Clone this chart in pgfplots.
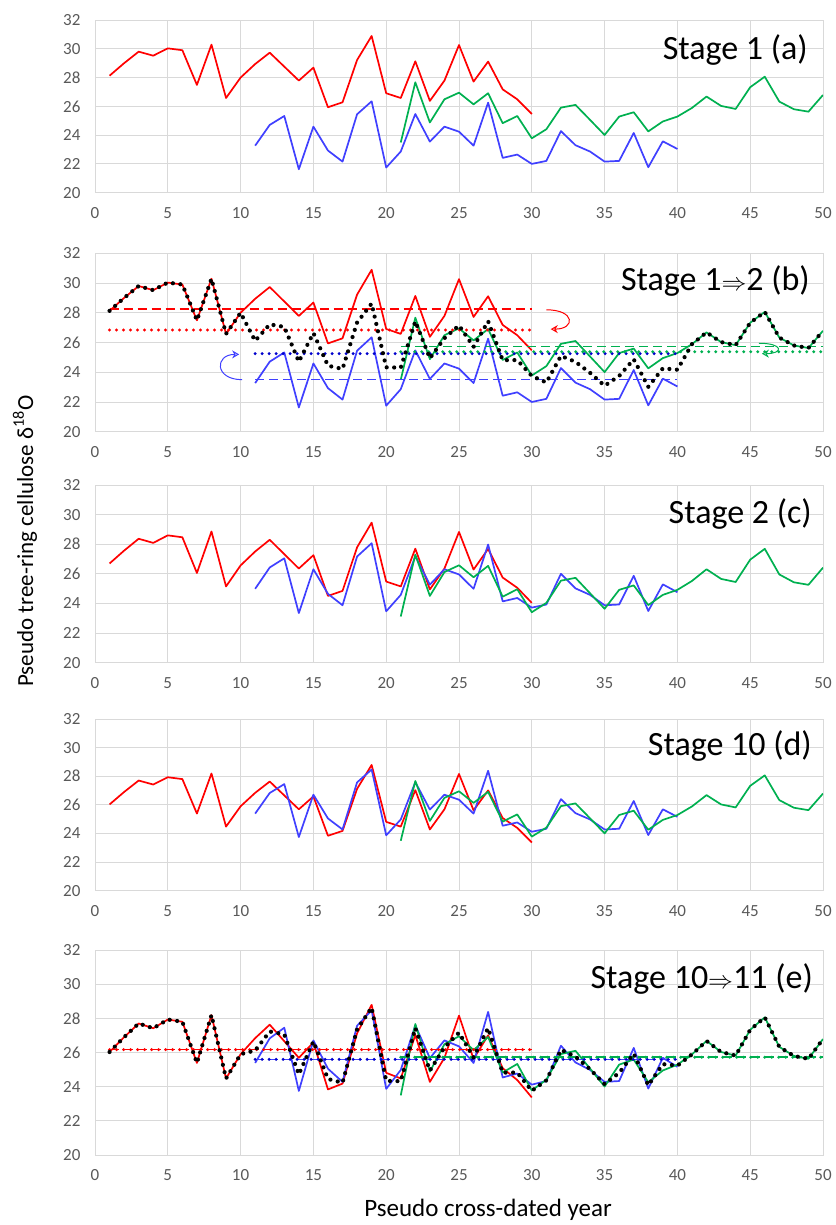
\documentclass[border=0pt]{standalone}
\usepackage{fontspec}
\setmainfont{Carlito}
\usepackage{pgfplots}
\pgfplotsset{compat=1.18}
\usepackage{pgfplotstable}
\usetikzlibrary{arrows.meta}

\definecolor{cR}{RGB}{255,0,0}
\definecolor{cB}{RGB}{64,64,255}
\definecolor{cBd}{RGB}{0,0,204}
\definecolor{cG}{RGB}{0,176,80}
\definecolor{gridc}{RGB}{217,217,217}
\definecolor{tickc}{RGB}{89,89,89}

\pgfplotstableread{
x rA bA gA kB rC bC gC rD bD kE
1 28.13 nan nan 28.13 26.70 nan nan 26.03 nan 26.03
2 29.00 nan nan 29.00 27.57 nan nan 26.90 nan 26.90
3 29.80 nan nan 29.80 28.37 nan nan 27.70 nan 27.70
4 29.52 nan nan 29.52 28.09 nan nan 27.42 nan 27.42
5 30.03 nan nan 30.03 28.60 nan nan 27.93 nan 27.93
6 29.90 nan nan 29.90 28.47 nan nan 27.80 nan 27.80
7 27.49 nan nan 27.49 26.06 nan nan 25.39 nan 25.39
8 30.29 nan nan 30.29 28.86 nan nan 28.19 nan 28.19
9 26.58 nan nan 26.58 25.15 nan nan 24.48 nan 24.48
10 28.00 nan nan 28.00 26.57 nan nan 25.90 nan 25.90
11 28.94 23.27 nan 26.11 27.51 24.99 nan 26.84 25.39 26.12
12 29.73 24.71 nan 27.22 28.30 26.43 nan 27.63 26.83 27.23
13 28.76 25.33 nan 27.05 27.33 27.05 nan 26.66 27.45 27.06
14 27.79 21.63 nan 24.71 26.36 23.35 nan 25.69 23.75 24.72
15 28.69 24.59 nan 26.64 27.26 26.31 nan 26.59 26.71 26.65
16 25.94 22.93 nan 24.44 24.51 24.65 nan 23.84 25.05 24.45
17 26.28 22.16 nan 24.22 24.85 23.88 nan 24.18 24.28 24.23
18 29.22 25.45 nan 27.34 27.79 27.17 nan 27.12 27.57 27.35
19 30.89 26.35 nan 28.62 29.46 28.07 nan 28.79 28.47 28.63
20 26.91 21.75 nan 24.33 25.48 23.47 nan 24.81 23.87 24.34
21 26.58 22.86 23.49 24.31 25.15 24.58 23.12 24.48 24.98 24.32
22 29.13 25.47 27.67 27.42 27.70 27.19 27.30 27.03 27.59 27.43
23 26.38 23.55 24.88 24.94 24.95 25.27 24.51 24.28 25.67 24.94
24 27.79 24.59 26.49 26.29 26.36 26.31 26.12 25.69 26.71 26.30
25 30.26 24.24 26.95 27.15 28.83 25.96 26.58 28.16 26.36 27.16
26 27.72 23.27 26.14 25.71 26.29 24.99 25.77 25.62 25.39 25.72
27 29.11 26.26 26.91 27.43 27.68 27.98 26.54 27.01 28.38 27.43
28 27.18 22.42 24.83 24.81 25.75 24.14 24.46 25.08 24.54 24.82
29 26.49 22.65 25.33 24.82 25.06 24.37 24.96 24.39 24.77 24.83
30 25.47 22.00 23.78 23.75 24.04 23.72 23.41 23.37 24.12 23.76
31 nan 22.21 24.41 23.31 nan 23.93 24.04 nan 24.33 24.37
32 nan 24.28 25.91 25.10 nan 26.00 25.54 nan 26.40 26.16
33 nan 23.30 26.10 24.70 nan 25.02 25.73 nan 25.42 25.76
34 nan 22.86 25.06 23.96 nan 24.58 24.69 nan 24.98 25.02
35 nan 22.16 24.01 23.09 nan 23.88 23.64 nan 24.28 24.15
36 nan 22.21 25.29 23.75 nan 23.93 24.92 nan 24.33 24.81
37 nan 24.15 25.59 24.87 nan 25.87 25.22 nan 26.27 25.93
38 nan 21.77 24.26 23.02 nan 23.49 23.89 nan 23.89 24.08
39 nan 23.57 24.95 24.26 nan 25.29 24.58 nan 25.69 25.32
40 nan 23.04 25.29 24.17 nan 24.76 24.92 nan 25.16 25.23
41 nan nan 25.89 25.89 nan nan 25.52 nan nan 25.89
42 nan nan 26.68 26.68 nan nan 26.31 nan nan 26.68
43 nan nan 26.03 26.03 nan nan 25.66 nan nan 26.03
44 nan nan 25.82 25.82 nan nan 25.45 nan nan 25.82
45 nan nan 27.33 27.33 nan nan 26.96 nan nan 27.33
46 nan nan 28.06 28.06 nan nan 27.69 nan nan 28.06
47 nan nan 26.33 26.33 nan nan 25.96 nan nan 26.33
48 nan nan 25.80 25.80 nan nan 25.43 nan nan 25.80
49 nan nan 25.63 25.63 nan nan 25.26 nan nan 25.63
50 nan nan 26.79 26.79 nan nan 26.42 nan nan 26.79
}\data

\pgfplotsset{
  stage/.style={scale only axis, width=728pt, xmin=0, xmax=50, ymin=20, ymax=32,
    xtick={0,5,...,50}, ytick={20,22,...,32},
    grid=major, grid style={draw=gridc, line width=0.9pt},
    axis line style={draw=gridc, line width=0.9pt},
    major tick length=0pt,
    tick label style={font=\fontsize{17}{17}\selectfont, text=tickc},
    /pgf/number format/assume math mode=true,
    xticklabel style={yshift=-11pt}, yticklabel style={xshift=-11pt},
    anchor=north west},
  ln/.style={line width=1.7pt, no markers, line join=round},
  dsh/.style={line width=1.6pt, dash pattern=on 9pt off 5pt, no markers},
  dtt/.style={line width=3.3pt, line cap=round, dash pattern=on 0pt off 7pt, no markers},
  blk/.style={black, line width=4.2pt, line cap=round, dash pattern=on 0pt off 7.5pt, no markers},
}
\tikzset{arr/.style={line width=1pt, -{Stealth[open, length=7pt, width=8pt]}}}

\begin{document}
\begin{tikzpicture}
\path[use as bounding box] (0,0) rectangle (835pt,-1225pt);

% (a)
\begin{axis}[stage, at={(95pt,-20pt)}, height=172.7pt]
\addplot[ln, cR] table[x=x, y=rA] {\data};
\addplot[ln, cB] table[x=x, y=bA] {\data};
\addplot[ln, cG] table[x=x, y=gA] {\data};
\end{axis}

% (b)
\begin{axis}[stage, at={(95pt,-253.3pt)}, height=178.4pt]
\addplot[ln, cR] table[x=x, y=rA] {\data};
\addplot[ln, cB] table[x=x, y=bA] {\data};
\addplot[ln, cG] table[x=x, y=gA] {\data};
\addplot[dsh, cR] coordinates {(1,28.27) (30,28.27)};
\addplot[dsh, cB] coordinates {(11,23.50) (40,23.50)};
\addplot[dsh, cG] coordinates {(21,25.72) (50,25.72)};
\addplot[dtt, cR] coordinates {(1,26.84) (30,26.84)};
\addplot[dtt, cBd] coordinates {(11,25.25) (40,25.25)};
\addplot[dtt, cG] coordinates {(21,25.38) (50,25.38)};
\addplot[blk] table[x=x, y=kB] {\data};
\draw[arr, cR] (axis cs:31.0,28.2) .. controls (axis cs:33.0,28.2) and (axis cs:33.0,26.9) .. (axis cs:31.3,26.9);
\draw[arr, cB] (axis cs:10.1,23.5) .. controls (axis cs:8.2,23.5) and (axis cs:8.2,25.2) .. (axis cs:9.9,25.2);
\draw[arr, cG] (axis cs:45.6,25.95) .. controls (axis cs:47.3,25.95) and (axis cs:47.3,25.25) .. (axis cs:45.8,25.25);
\end{axis}

% (c)
\begin{axis}[stage, at={(95pt,-485pt)}, height=177.7pt]
\addplot[ln, cR] table[x=x, y=rC] {\data};
\addplot[ln, cB] table[x=x, y=bC] {\data};
\addplot[ln, cG] table[x=x, y=gC] {\data};
\end{axis}

% (d)
\begin{axis}[stage, at={(95pt,-719pt)}, height=171.7pt]
\addplot[ln, cR] table[x=x, y=rD] {\data};
\addplot[ln, cB] table[x=x, y=bD] {\data};
\addplot[ln, cG] table[x=x, y=gA] {\data};
\end{axis}

% (e)
\begin{axis}[stage, at={(95pt,-950pt)}, height=205pt]
\addplot[ln, cR] table[x=x, y=rD] {\data};
\addplot[ln, cB] table[x=x, y=bD] {\data};
\addplot[ln, cG] table[x=x, y=gA] {\data};
\addplot[dsh, cR] coordinates {(1,26.17) (30,26.17)};
\addplot[dsh, cB] coordinates {(11,25.60) (40,25.60)};
\addplot[dsh, cG] coordinates {(21,25.72) (50,25.72)};
\addplot[dtt, cR] coordinates {(1,26.17) (30,26.17)};
\addplot[dtt, cBd] coordinates {(11,25.60) (40,25.60)};
\addplot[dtt, cG] coordinates {(21,25.72) (50,25.72)};
\addplot[blk] table[x=x, y=kE] {\data};
\end{axis}

% titles
\begin{scope}[every node/.style={anchor=base east, inner sep=0pt, font=\fontsize{34}{34}\selectfont}]
\node at (808pt,-60pt) {Stage 1 (a)};
\node at (810pt,-290pt) {Stage 1$\Rightarrow$2 (b)};
\node at (812pt,-523pt) {Stage 2 (c)};
\node at (812pt,-755pt) {Stage 10 (d)};
\node at (813pt,-988pt) {Stage 10$\Rightarrow$11 (e)};
\end{scope}

% axis labels
\node[rotate=90, anchor=base, inner sep=0pt, font=\fontsize{23}{23}\selectfont] at (33pt,-541pt) {Pseudo tree-ring cellulose δ\textsuperscript{18}O};
\node[anchor=base, inner sep=0pt, font=\fontsize{25}{25}\selectfont] at (488pt,-1216pt) {Pseudo cross-dated year};
\end{tikzpicture}
\end{document}
